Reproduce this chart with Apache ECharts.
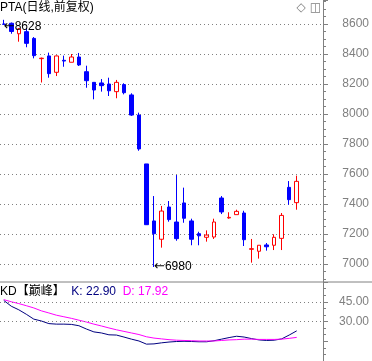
<!DOCTYPE html>
<html><head><meta charset="utf-8">
<script src="https://cdn.jsdelivr.net/npm/echarts@6/dist/echarts.min.js"></script>
<style>html,body{margin:0;padding:0;background:#fff}#c{width:372px;height:361px}</style>
</head><body><div id="c"></div>
<script>
const categories = ['1','2','3','4','5','6','7','8','9','10','11','12','13','14','15','16','17','18','19','20','21','22','23','24','25','26','27','28','29','30','31','32','33','34','35','36','37','38','39','40'];
const openValues  = [8600,8605,8535,8549,8504,8369,8387,8278,8358,8345,8380,8282,8211,8207,8200,8149,8196,8127,7993,7667,7287,7165,7380,7280,7407,7287,7202,7178,7180,7440,7307,7329,7340,7098,7085,7127,7125,7171,7511,7409];
const closeValues = [8598,8550,8567,8471,8389,8372,8269,8387,8353,8380,8327,8222,8160,8189,8155,8211,8142,7993,7767,7262,7202,7353,7296,7169,7305,7165,7188,7193,7280,7347,7311,7351,7162,7102,7125,7115,7178,7324,7429,7551];
const lowValues   = [8594,8535,8482,8445,8371,8210,8242,8253,8315,8345,8320,8175,8098,8149,8120,8105,8131,7987,7755,7260,6980,7109,7282,7155,7275,7125,7125,7149,7167,7333,7302,7329,7120,7009,7036,7089,7093,7093,7395,7362];
const highValues  = [8628,8610,8573,8571,8513,8376,8409,8390,8389,8400,8407,8322,8211,8233,8242,8227,8205,8138,8009,7667,7453,7387,7420,7593,7509,7302,7215,7224,7302,7453,7345,7362,7355,7167,7125,7140,7198,7340,7553,7589];
const kValues = [46.0,41.6,38.9,35.5,31.8,30.4,28.4,28.0,28.0,27.8,26.8,24.3,22.1,21.3,19.9,19.7,18.2,16.6,15.2,12.8,13.0,13.8,14.4,14.8,15.0,14.8,14.6,14.6,15.4,16.6,17.8,18.8,18.2,17.0,16.0,15.6,15.8,16.8,19.7,22.90];
const dValues = [46.6,45.0,43.6,42.0,40.3,38.1,36.5,34.8,33.6,32.4,31.0,29.6,28.0,26.6,25.1,23.7,22.5,21.3,20.1,18.4,17.4,16.8,16.2,15.8,15.6,15.4,15.2,15.2,15.2,15.6,16.0,16.2,16.6,16.6,16.4,16.4,16.4,16.6,17.2,17.92];
const priceTicks = [7000,7200,7400,7600,7800,8000,8200,8400,8600];
const kdTicks = [45,30];
const titleText = 'PTA(日线,前复权)';
const kdName = 'KD【巅峰】';

const FONT = "'Liberation Sans','Noto Sans CJK SC',sans-serif";
const GRAY = '#808080';
const candleData = openValues.map((o,i)=>[o, closeValues[i], lowValues[i], highValues[i]]);
const maxHigh = Math.max(...highValues), maxIdx = highValues.indexOf(maxHigh);
const minLow = Math.min(...lowValues), minIdx = lowValues.indexOf(minLow);
const lastK = kValues[kValues.length-1], lastD = dValues[dValues.length-1];

const chart = echarts.init(document.getElementById('c'), null, {renderer:'canvas'});
chart.setOption({
  animation:false,
  backgroundColor:'#fff',
  title:[
    {text:titleText, left:0, top:2, padding:0, textStyle:{fontSize:12, fontWeight:'normal', color:'#000', fontFamily:FONT}},
    {text:'{a|'+kdName+'}  {k|K: '+lastK.toFixed(2)+'}  {d|D: '+lastD.toFixed(2)+'}', left:0, top:286, padding:0,
     textStyle:{fontSize:12, fontWeight:'normal', fontFamily:FONT,
       rich:{a:{color:'#000',fontSize:12,fontFamily:FONT}, k:{color:'#000080',fontSize:12,fontFamily:FONT}, d:{color:'#FF00FF',fontSize:12,fontFamily:FONT}}}},
    {text:'◇ ◫', right:51, top:2, padding:0, textStyle:{fontSize:12, fontWeight:'normal', color:GRAY, fontFamily:"'DejaVu Sans'"}}
  ],
  grid:[
    {left:0, right:48, top:0, height:282},
    {left:0, right:48, top:282, height:97}
  ],
  xAxis:[
    {type:'category', gridIndex:0, data:categories, max:42, show:false, boundaryGap:true},
    {type:'category', gridIndex:1, data:categories, max:42, show:false, boundaryGap:true}
  ],
  yAxis:[
    {type:'value', gridIndex:0, position:'right', min:6880, max:8760, splitNumber:9, minInterval:200, maxInterval:200,
     axisLine:{show:true, lineStyle:{color:GRAY, width:1}},
     axisTick:{show:true, length:5, lineStyle:{color:GRAY}},
     minorTick:{show:true, splitNumber:4, length:3, lineStyle:{color:GRAY}},
     axisLabel:{color:GRAY, fontSize:12, fontFamily:FONT, margin:46, align:'right', showMinLabel:false, showMaxLabel:false,
       formatter:v=>priceTicks.includes(v)?String(v):''},
     splitLine:{show:true, showMinLine:false, showMaxLine:false, lineStyle:{type:[1,3], color:GRAY, width:1}}},
    {type:'value', gridIndex:1, position:'right', min:0, max:60, interval:15,
     axisLine:{show:true, lineStyle:{color:GRAY, width:1}},
     axisTick:{show:true, length:5, lineStyle:{color:GRAY}},
     minorTick:{show:true, splitNumber:3, length:3, lineStyle:{color:GRAY}},
     axisLabel:{color:GRAY, fontSize:12, fontFamily:FONT, margin:46, align:'right',
       formatter:v=>kdTicks.includes(v)?v.toFixed(2):''},
     splitLine:{show:false}}
  ],
  graphic:[
    {type:'line', shape:{x1:0, y1:282, x2:372, y2:282}, style:{stroke:GRAY, lineWidth:1}, z:10}
  ],
  series:[
    {type:'candlestick', xAxisIndex:0, yAxisIndex:0, data:candleData, barWidth:4,
     itemStyle:{color:'#FFFFFF', color0:'#0000FF', borderColor:'#FF0000', borderColor0:'#0000FF', borderWidth:1},
     markPoint:{symbol:'circle', symbolSize:0, silent:true,
       label:{show:true, position:'right', distance:0, color:'#000', fontSize:12, fontFamily:FONT,
         formatter:p=>'{a|←}{b|'+p.value+'}',
         rich:{a:{fontFamily:"'DejaVu Sans'", fontSize:13, color:'#000'}, b:{fontFamily:FONT, fontSize:12, color:'#000'}}},
       data:[
         {coord:[maxIdx, maxHigh], value:maxHigh, label:{offset:[0,7]}},
         {coord:[minIdx, minLow], value:minLow}
       ]}},
    {type:'line', xAxisIndex:1, yAxisIndex:1, data:kValues, symbol:'none', lineStyle:{color:'#000080', width:1}, itemStyle:{color:'#000080'},
     markLine:{silent:true, symbol:['none','none'], label:{show:false}, lineStyle:{type:[1,3], color:GRAY, width:1},
       data:kdTicks.map(v=>({yAxis:v}))}},
    {type:'line', xAxisIndex:1, yAxisIndex:1, data:dValues, symbol:'none', lineStyle:{color:'#FF00FF', width:1}, itemStyle:{color:'#FF00FF'}}
  ]
});
</script></body></html>
